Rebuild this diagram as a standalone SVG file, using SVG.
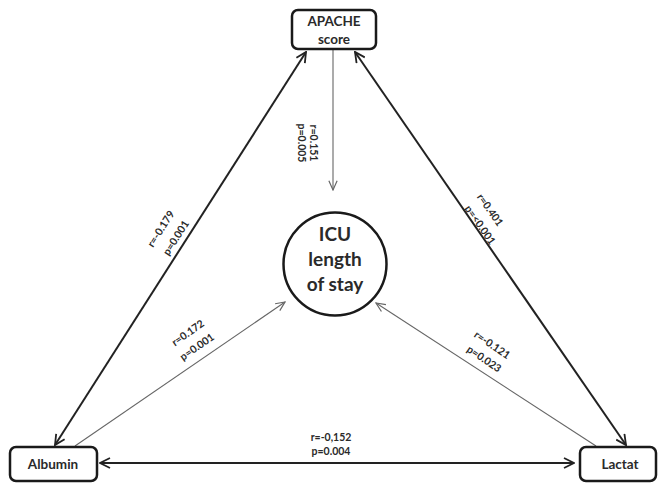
<svg xmlns="http://www.w3.org/2000/svg" width="659" height="483" viewBox="0 0 659 483">
<style>
.box{fill:#fff;stroke:#1a1a1a;stroke-width:2.5}
.ntxt{font-family:Lato,"Open Sans",sans-serif;font-weight:bold;font-size:13.5px;fill:#2a2a2a;text-anchor:middle}
.big{font-family:Lato,"Open Sans",sans-serif;font-weight:bold;font-size:19px;fill:#2a2a2a;text-anchor:middle}
.lbl{font-family:Lato,"Open Sans",sans-serif;font-weight:bold;font-size:10.5px;fill:#2a2a2a;text-anchor:middle}
.thick{stroke:#222;stroke-width:2;fill:none}
.thin{stroke:#666;stroke-width:1.1;fill:none}
</style>
<defs>
<marker id="ah" viewBox="0 0 12 12" refX="11" refY="6" markerWidth="12" markerHeight="12" markerUnits="userSpaceOnUse" orient="auto-start-reverse">
<path d="M1,1 L11,6 L1,11" fill="none" stroke="#222" stroke-width="1.8"/>
</marker>
<marker id="at" viewBox="0 0 12 12" refX="11" refY="6" markerWidth="11" markerHeight="11" markerUnits="userSpaceOnUse" orient="auto">
<path d="M1,1.5 L11,6 L1,10.5" fill="none" stroke="#666" stroke-width="1.3"/>
</marker>
</defs>
<g id="connectors">
<line class="thick" x1="306" y1="52" x2="55" y2="445" marker-start="url(#ah)" marker-end="url(#ah)"/>
<line class="thick" x1="355" y1="52" x2="626" y2="445" marker-start="url(#ah)" marker-end="url(#ah)"/>
<line class="thick" x1="100" y1="463" x2="574" y2="463" marker-start="url(#ah)" marker-end="url(#ah)"/>
<line class="thin" x1="333" y1="49" x2="333" y2="190" marker-end="url(#at)"/>
<line class="thin" x1="75" y1="446" x2="285" y2="302" marker-end="url(#at)"/>
<line class="thin" x1="596" y1="446" x2="376" y2="303" marker-end="url(#at)"/>
<g class="lbl">
<text transform="translate(313,143) rotate(90)" y="3.5">r=0.151</text>
<text transform="translate(301,143) rotate(90)" y="3.5">p=0.005</text>
<text transform="translate(161,229) rotate(-57.5)" y="3.5">r=-0.179</text>
<text transform="translate(176,238) rotate(-57.5)" y="3.5">p=0.001</text>
<text transform="translate(490,210) rotate(55)" y="3.5">r=0.401</text>
<text transform="translate(480,225) rotate(55)" y="3.5">p=&lt;0.001</text>
<text transform="translate(188,333) rotate(-35)" y="3.5">r=0.172</text>
<text transform="translate(197,347) rotate(-35)" y="3.5">p=0.001</text>
<text transform="translate(492,345) rotate(34)" y="3.5">r=-0.121</text>
<text transform="translate(484,359) rotate(34)" y="3.5">p=0.023</text>
<text x="331" y="441">r=-0,152</text>
<text x="331" y="455">p=0.004</text>
</g>
</g>
<g id="apache">
<rect class="box" x="292" y="10" width="84" height="39" rx="6"/>
<text class="ntxt" x="334" y="26">APACHE</text>
<text class="ntxt" x="334" y="44">score</text>
</g>
<g id="icu">
<circle cx="335" cy="264" r="51.5" fill="#fff" stroke="#1a1a1a" stroke-width="2.5"/>
<text class="big" x="335" y="241">ICU</text>
<text class="big" x="335" y="266">length</text>
<text class="big" x="335" y="291">of stay</text>
</g>
<g id="albumin">
<rect class="box" x="10" y="447" width="87" height="34" rx="6"/>
<text class="ntxt" x="53" y="469">Albumin</text>
</g>
<g id="lactat">
<rect class="box" x="580" y="447" width="76" height="34" rx="6"/>
<text class="ntxt" x="620" y="469">Lactat</text>
</g>
</svg>
